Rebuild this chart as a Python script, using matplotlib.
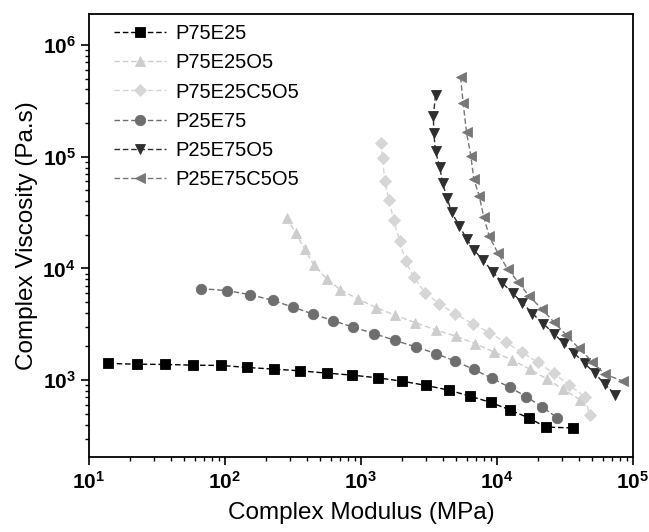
import matplotlib
matplotlib.use("Agg")
import matplotlib.pyplot as plt
from matplotlib.ticker import LogLocator, NullFormatter, FuncFormatter
import numpy as np

plt.rcParams["font.family"] = ["Liberation Sans", "DejaVu Sans"]
plt.rcParams["mathtext.fontset"] = "custom"
plt.rcParams["mathtext.rm"] = "Liberation Sans"
plt.rcParams["mathtext.bf"] = "Liberation Sans:bold"

# ---- data (complex modulus in MPa, viscosity in Pa.s)
p75e25_x = [13.9, 22.4, 36.2, 57.9, 93.5, 145.9, 228, 358, 562, 863,
            1327, 1991, 3005, 4416, 6329, 8990, 12540, 17190, 22910, 36240]
p75e25_y = [1409, 1389, 1381, 1361, 1353, 1298, 1254, 1211, 1155, 1108,
            1048, 980, 897, 814, 720, 632, 540, 458, 380, 373]

p75e25o5_x = [284, 332, 386, 453, 559, 704, 951, 1296, 1787, 2508,
              3560, 4994, 6950, 9616, 13000, 17480, 23310, 30730, 40740]
p75e25o5_y = [28540, 20830, 14900, 10680, 8091, 6453, 5331, 4458, 3805, 3275,
              2812, 2471, 2118, 1778, 1509, 1254, 1025, 828, 670]

p75e25c5o5_x = [1396, 1444, 1501, 1607, 1740, 1936, 2132, 2453, 2956, 3777,
                4953, 6627, 8779, 11650, 15350, 20120, 26240, 34010, 44360, 48300]
p75e25c5o5_y = [132600, 96560, 60180, 41060, 27380, 17430, 11620, 8362, 6067, 4839,
                3908, 3208, 2666, 2171, 1767, 1439, 1148, 908, 710, 487]

p25e75_x = [66.2, 103.5, 153.6, 224.3, 314.8, 443.8, 622.6, 883, 1246, 1770,
            2524, 3559, 4909, 6770, 9235, 12470, 16530, 21530, 27930]
p25e75_y = [6592, 6325, 5821, 5176, 4508, 3905, 3410, 2972, 2612, 2276,
            1983, 1729, 1486, 1246, 1035, 861, 710, 574, 460]

p25e75o5_x = [3542, 3413, 3443, 3542, 3810, 3988, 4311, 4643, 5283, 5987,
              6775, 7932, 9394, 11010, 13050, 15450, 18300, 21900, 26240, 31090,
              37270, 44360, 52560, 62230, 74620]
p25e75o5_y = [355500, 232400, 161500, 111500, 80260, 57750, 42790, 31810, 24200, 18420,
              14690, 11790, 9268, 7392, 6018, 4899, 3940, 3208, 2612, 2127,
              1731, 1410, 1148, 921, 735]

p25e75c5o5_x = [5409, 5652, 5987, 6438, 6775, 7414, 8025, 8810, 10140, 11990,
                14340, 17280, 21320, 26240, 32550, 40290, 50530, 62230, 84860]
p25e75c5o5_y = [518000, 305300, 164800, 102100, 63220, 44850, 28710, 19310, 13840, 9938,
                7544, 5656, 4367, 3315, 2522, 1919, 1457, 1131, 980]

labels = ["P75E25", "P75E25O5", "P75E25C5O5", "P25E75", "P25E75O5", "P25E75C5O5"]
series = [(p75e25_x, p75e25_y), (p75e25o5_x, p75e25o5_y), (p75e25c5o5_x, p75e25c5o5_y),
          (p25e75_x, p25e75_y), (p25e75o5_x, p25e75o5_y), (p25e75c5o5_x, p25e75c5o5_y)]
markers = ["s", "^", "D", "o", "v", "<"]
colors = ["#000000", "#cdcdcd", "#d6d6d6", "#6e6e6e", "#2e2e2e", "#777777"]
sizes = [6.5, 7.5, 6, 7.5, 7.5, 7.5]

fig = plt.figure(figsize=(6.49, 5.32), dpi=100)
ax = fig.add_axes([0.137, 0.141, 0.838, 0.833])

for (x, y), lab, m, c, s in zip(series, labels, markers, colors, sizes):
    ax.plot(x, y, linestyle=(0, (4, 2)), linewidth=1.0, color=c,
            marker=m, markersize=s, markerfacecolor=c,
            markeredgecolor=c, markeredgewidth=0.6, label=lab)

ax.set_xscale("log")
ax.set_yscale("log")
ax.set_xlim(10, 1e5)
ax.set_ylim(205, 1.9e6)

pow_fmt = FuncFormatter(lambda v, _: r"$\mathbf{10^{%d}}$" % int(round(np.log10(v))))
ax.xaxis.set_major_locator(LogLocator(base=10, numticks=10))
ax.yaxis.set_major_locator(LogLocator(base=10, numticks=10))
ax.xaxis.set_major_formatter(pow_fmt)
ax.yaxis.set_major_formatter(pow_fmt)
ax.xaxis.set_minor_locator(LogLocator(base=10, subs=range(2, 10), numticks=20))
ax.yaxis.set_minor_locator(LogLocator(base=10, subs=range(2, 10), numticks=20))
ax.xaxis.set_minor_formatter(NullFormatter())
ax.yaxis.set_minor_formatter(NullFormatter())

ax.tick_params(which="major", direction="out", length=6, width=1.2,
               labelsize=15, top=False, right=False)
ax.tick_params(which="minor", direction="out", length=3, width=1.0,
               top=False, right=False)
ax.tick_params(axis="x", which="major", pad=4)

for sp in ax.spines.values():
    sp.set_linewidth(1.3)

ax.set_xlabel("Complex Modulus (MPa)", fontsize=17.5, labelpad=7)
ax.set_ylabel("Complex Viscosity (Pa.s)", fontsize=17.5, labelpad=3)

ax.legend(loc="upper left", frameon=False, fontsize=14.5, handlelength=2.6,
          handletextpad=0.45, labelspacing=0.5, borderaxespad=0.3,
          bbox_to_anchor=(0.02, 1.008))

plt.savefig("out.png", dpi=100)
plt.close()
